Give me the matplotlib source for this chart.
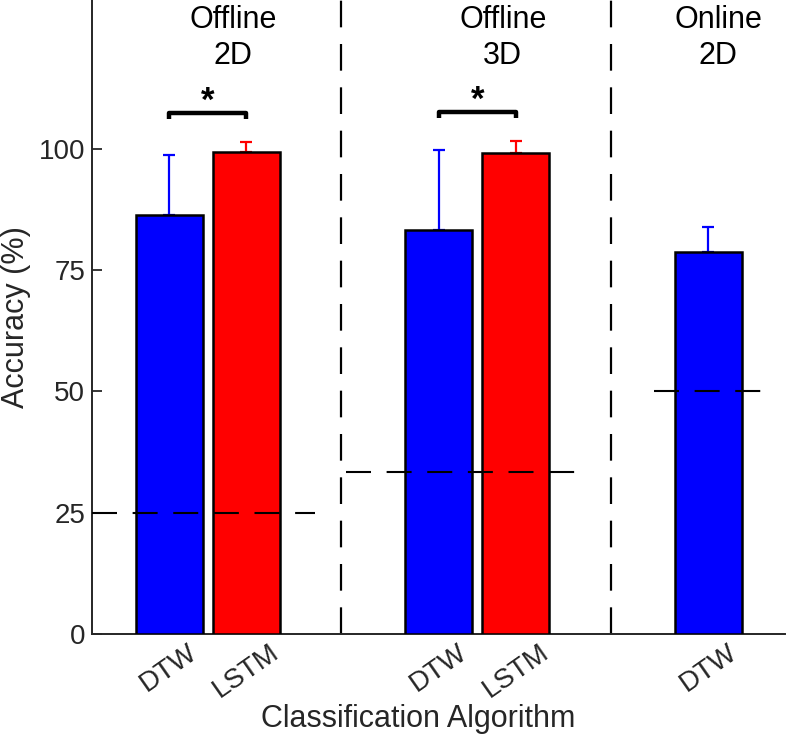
import matplotlib
matplotlib.use('Agg')
import matplotlib.pyplot as plt

plt.rcParams['font.family'] = ['Liberation Sans', 'DejaVu Sans']

# bar data
positions = [1, 2, 4.5, 5.5, 8]
labels = ['DTW', 'LSTM', 'DTW', 'LSTM', 'DTW']
accuracy = [86.4, 99.4, 83.3, 99.2, 78.7]
errUpper = [12.4, 2.0, 16.5, 2.4, 5.3]
colors = ['#0000FF', '#FF0000', '#0000FF', '#FF0000', '#0000FF']

# chance levels per group: (level, x start, x end)
chanceLevel = [25, 33.3, 50]
chanceStart = [0.0, 3.3, 7.3]
chanceEnd = [2.9, 6.4, 8.7]

# group separators and group titles
separators = [3.23, 6.74]
groupTitles = ['Offline\n2D', 'Offline\n3D', 'Online\n2D']
titleX = [1.83, 5.33, 8.13]

# significance brackets (left bar, right bar, height)
sigLeft = [1, 4.5]
sigRight = [2, 5.5]
sigHeight = [107.4, 107.6]

dark = '#262626'
dashStyle = (0, (12, 7.5))

fig = plt.figure(figsize=(7.87, 7.45), dpi=100)
ax = fig.add_axes([0.117, 0.149, 0.881, 0.851])

for x, acc, err, c in zip(positions, accuracy, errUpper, colors):
    ax.errorbar(x, acc, yerr=[[0], [err]], color=c, elinewidth=1.6,
                capsize=4.5, capthick=1.6, zorder=2)
    ax.bar(x, acc, width=0.87, color=c, edgecolor='black', linewidth=1.8, zorder=3)

for lvl, x0, x1 in zip(chanceLevel, chanceStart, chanceEnd):
    ax.plot([x0, x1], [lvl, lvl], color='black', linewidth=1.5,
            linestyle=dashStyle, zorder=4, clip_on=False)

for sx in separators:
    ax.axvline(sx, color='black', linewidth=1.6, linestyle=dashStyle, zorder=1)

for tx, title in zip(titleX, groupTitles):
    ax.text(tx, 129.7, title, ha='center', va='top', fontsize=22,
            color='black', linespacing=1.25)

for x0, x1, h in zip(sigLeft, sigRight, sigHeight):
    ax.plot([x0, x0, x1, x1], [h - 1.2, h, h, h - 1.2], color='black',
            linewidth=3.2, solid_joinstyle='round', solid_capstyle='butt')
    ax.text((x0 + x1) / 2, h - 1.0, '*', ha='center', va='bottom',
            fontsize=25, fontweight='bold')

ax.set_xlim(0, 9)
ax.set_ylim(0, 130.7)
ax.set_yticks([0, 25, 50, 75, 100])
ax.set_xticks(positions)
ax.set_xticklabels(labels, rotation=35, ha='center', va='top')

ax.tick_params(axis='y', direction='in', length=7, width=1.3, colors=dark,
               labelsize=20, pad=5)
ax.tick_params(axis='x', length=0, colors=dark, labelsize=20, pad=4)

for side in ['top', 'right']:
    ax.spines[side].set_visible(False)
for side in ['left', 'bottom']:
    ax.spines[side].set_linewidth(1.4)
    ax.spines[side].set_color(dark)

ax.set_ylabel('Accuracy (%)', fontsize=22, color=dark)
ax.yaxis.set_label_coords(-0.088, 0.5)
ax.set_xlabel('Classification Algorithm', fontsize=22, color=dark)
ax.xaxis.set_label_coords(0.47, -0.11)

fig.savefig('out.png', dpi=100)
